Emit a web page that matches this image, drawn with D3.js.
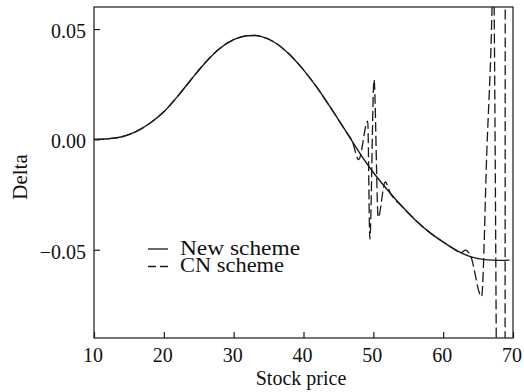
<!DOCTYPE html>
<html>
<head>
<meta charset="utf-8">
<script src="https://cdn.jsdelivr.net/npm/d3@7"></script>
<style>
  body { margin: 0; background: #fff; }
  text { font-family: "Liberation Serif", "DejaVu Serif", serif; fill: #111; }
</style>
</head>
<body>
<svg id="chart" width="524" height="392"></svg>
<script>
// data
var xTicks = [10, 20, 30, 40, 50, 60, 70];
var yTicks = [0.05, 0.00, -0.05];
var yTickLabels = ["0.05", "0.00", "\u22120.05"];

// New scheme (smooth)
var newPrice = [10, 12, 14, 16, 18, 20, 22, 24, 26, 28, 30, 32, 33, 34, 36, 38, 40, 42, 44, 46, 48, 50, 52, 54, 56, 58, 60, 62, 64, 66, 68, 69.5];
var newDelta = [0.0000, 0.0003, 0.0012, 0.0035, 0.0073, 0.0125, 0.0196, 0.0275, 0.0350, 0.0412, 0.0452, 0.0470, 0.0471, 0.0466, 0.0437, 0.0385, 0.0315, 0.0232, 0.0138, 0.0040, -0.0060, -0.0150, -0.0228, -0.0300, -0.0365, -0.0420, -0.0465, -0.0505, -0.0532, -0.0545, -0.0548, -0.0547];

// CN scheme (same as new except the wiggles near 50 and past 63; last points run off the plot)
var cnPrice = [10, 12, 14, 16, 18, 20, 22, 24, 26, 28, 30, 32, 33, 34, 36, 38, 40, 42, 44, 46, 47, 47.9, 49.2, 49.5, 50.1, 50.7, 51.7, 52.5, 54, 56, 58, 60, 62, 62.5, 63.2, 63.9, 65.5, 66.25, 67.0, 67.2, 67.3, 67.6, 67.7, 68.85, 68.9];
var cnDelta = [0.0000, 0.0003, 0.0012, 0.0035, 0.0073, 0.0125, 0.0196, 0.0275, 0.0350, 0.0412, 0.0452, 0.0470, 0.0471, 0.0466, 0.0437, 0.0385, 0.0315, 0.0232, 0.0138, 0.0040, -0.0010, -0.0092, 0.0083, -0.0452, 0.0271, -0.0354, -0.0193, -0.0247, -0.0300, -0.0365, -0.0420, -0.0465, -0.0505, -0.0514, -0.0502, -0.0526, -0.0712, -0.0056, 0.060, 0.090, 0.060, -0.090, -0.150, -0.150, 0.200];

var legendNames = ["New scheme", "CN scheme"];
var legendWidths = [120, 104]; // legend labels look a bit wide in the picture

var svg = d3.select("#chart");
var padL = 94, padR = 513, padT = 7, padB = 338; // plot box edges
var ink = "#1a1a1a";

var x = d3.scaleLinear().domain([10, 70]).range([padL, padR]);
var y = d3.scaleLinear().domain([-0.09, 0.06]).range([padB, padT]);

svg.append("clipPath").attr("id", "plotclip")
    .append("rect")
    .attr("x", padL).attr("y", padT)
    .attr("width", padR - padL).attr("height", padB - padT);

// axes, ticks drawn inward
var xAxis = svg.append("g")
    .attr("transform", "translate(0," + padB + ")")
    .call(d3.axisBottom(x).tickValues(xTicks).tickSizeInner(-6).tickSizeOuter(0).tickPadding(10).tickFormat(d3.format("d")));
var yAxis = svg.append("g")
    .attr("transform", "translate(" + padL + ",0)")
    .call(d3.axisLeft(y).tickValues(yTicks).tickSizeInner(-6).tickSizeOuter(0).tickPadding(8)
        .tickFormat(function (d, i) { return yTickLabels[i]; }));

[xAxis, yAxis].forEach(function (g) {
    g.select(".domain").remove();
    g.selectAll("line").attr("stroke", ink).attr("stroke-width", 1.2);
    g.selectAll("text")
        .attr("font-family", "Liberation Serif, serif")
        .attr("font-size", 20)
        .attr("fill", ink);
});
xAxis.selectAll("text").attr("dx", -1.5);
yAxis.selectAll("text").attr("dy", "0.42em");

// frame
svg.append("rect")
    .attr("x", padL).attr("y", padT)
    .attr("width", padR - padL).attr("height", padB - padT)
    .attr("fill", "none")
    .attr("stroke", ink)
    .attr("stroke-width", 1.2);

var line = d3.line()
    .x(function (d) { return x(d[0]); })
    .y(function (d) { return y(d[1]); })
    .curve(d3.curveMonotoneX);

var plot = svg.append("g").attr("clip-path", "url(#plotclip)");

plot.append("path")
    .datum(newPrice.map(function (p, i) { return [p, newDelta[i]]; }))
    .attr("d", line)
    .attr("fill", "none")
    .attr("stroke", ink)
    .attr("stroke-width", 1.4);

plot.append("path")
    .datum(cnPrice.map(function (p, i) { return [p, cnDelta[i]]; }))
    .attr("d", line)
    .attr("fill", "none")
    .attr("stroke", ink)
    .attr("stroke-width", 1.3)
    .attr("stroke-dasharray", "10,4");

// legend
var legend = svg.append("g");
legendNames.forEach(function (name, i) {
    var ly = 249 + i * 17.5;
    legend.append("line")
        .attr("x1", 148).attr("x2", 168)
        .attr("y1", ly).attr("y2", ly)
        .attr("stroke", ink)
        .attr("stroke-width", 1.3)
        .attr("stroke-dasharray", i == 1 ? "8,4" : null);
    legend.append("text")
        .attr("x", 180).attr("y", ly + 5.5)
        .attr("font-size", 20)
        .attr("textLength", legendWidths[i])
        .attr("lengthAdjust", "spacingAndGlyphs")
        .text(name);
});

// axis titles
svg.append("text")
    .attr("x", 301).attr("y", 385)
    .attr("text-anchor", "middle")
    .attr("font-size", 20)
    .text("Stock price");

svg.append("text")
    .attr("transform", "translate(27,177) rotate(-90)")
    .attr("text-anchor", "middle")
    .attr("font-size", 21)
    .text("Delta");
</script>
</body>
</html>
